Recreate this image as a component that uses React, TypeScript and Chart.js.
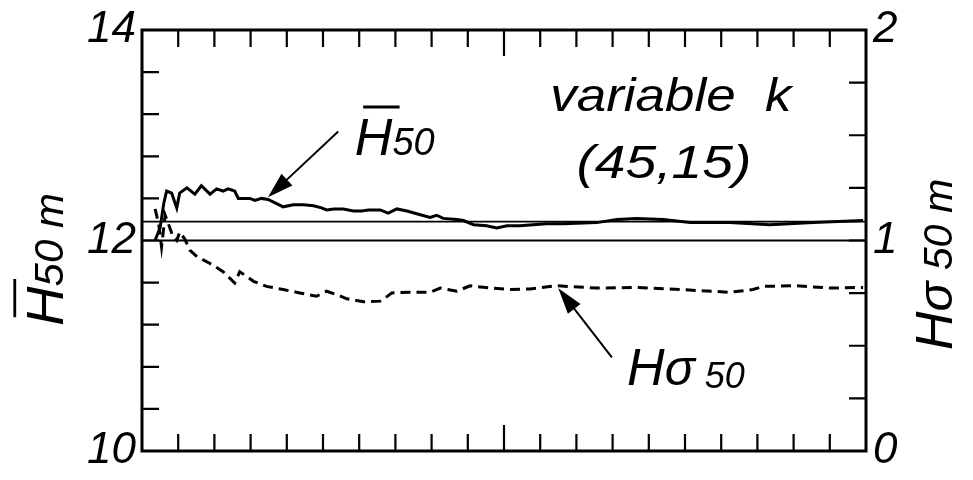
import React, { useEffect, useRef } from 'react';
import { Chart, registerables } from 'chart.js';

Chart.register(...registerables);

// ---- data (x: relative position along the run, 0..100) ----
const meanX = [1.8, 2.5, 3.0, 3.4, 4.1, 4.8, 5.2, 6.2, 7.3, 8.2, 9.4, 10.3, 11.2, 11.9, 12.8, 13.3, 14.9, 15.6, 16.5, 17.4, 18.6, 19.5, 20.9, 22.3, 23.7, 24.8, 25.5, 26.5, 27.8, 29.2, 30.3, 31.3, 32.9, 34.0, 35.2, 36.6, 38.2, 39.8, 40.7, 41.6, 43.5, 44.4, 45.8, 47.6, 49.0, 50.4, 52.2, 54.0, 55.9, 58.2, 62.8, 65.6, 68.3, 72.0, 75.7, 81.2, 86.7, 92.7, 99.6];
const meanH = [12.0, 12.12, 12.35, 12.47, 12.45, 12.31, 12.45, 12.50, 12.44, 12.52, 12.44, 12.49, 12.47, 12.49, 12.47, 12.40, 12.40, 12.38, 12.40, 12.39, 12.35, 12.32, 12.34, 12.34, 12.33, 12.31, 12.29, 12.30, 12.30, 12.28, 12.28, 12.29, 12.29, 12.26, 12.30, 12.28, 12.25, 12.22, 12.24, 12.21, 12.20, 12.19, 12.15, 12.14, 12.12, 12.14, 12.14, 12.15, 12.16, 12.16, 12.17, 12.20, 12.21, 12.20, 12.17, 12.17, 12.15, 12.17, 12.19];

const sigmaX = [1.8, 2.3, 2.7, 3.2, 3.9, 4.3, 4.8, 5.2, 5.9, 6.6, 7.6, 9.4, 11.2, 12.8, 13.5, 15.4, 17.2, 19.5, 21.8, 24.1, 25.5, 26.9, 28.3, 30.6, 32.9, 33.6, 34.5, 37.0, 39.8, 41.2, 43.5, 45.3, 48.1, 50.8, 53.6, 57.3, 62.8, 68.3, 74.3, 81.2, 84.4, 85.8, 90.4, 95.0, 99.6];
const sigmaH = [1.15, 1.08, 0.97, 1.12, 1.055, 1.016, 1.0, 1.04, 1.008, 0.954, 0.923, 0.891, 0.852, 0.798, 0.852, 0.806, 0.782, 0.767, 0.751, 0.735, 0.759, 0.743, 0.723, 0.709, 0.712, 0.727, 0.751, 0.754, 0.754, 0.774, 0.759, 0.785, 0.774, 0.767, 0.770, 0.785, 0.774, 0.777, 0.767, 0.754, 0.767, 0.782, 0.785, 0.774, 0.777];

const refLevels = [12, 12.18];
const leftTickLabels = [10, 12, 14];
const rightTickLabels = [0, 1, 2];
const xRange = [0, 100];
const xTickStep = 5;

const FONT = '"Liberation Sans", Arial, Helvetica, sans-serif';

type Part = { t: string; size: number; over?: boolean; dy?: number };

function drawRich(
  ctx: CanvasRenderingContext2D,
  parts: Part[],
  x: number,
  y: number,
  rot: number,
  sx: number,
  align: 'left' | 'center'
) {
  ctx.save();
  ctx.translate(x, y);
  if (rot) ctx.rotate(rot);
  ctx.scale(sx, 1);
  ctx.fillStyle = '#000';
  ctx.strokeStyle = '#000';
  ctx.textBaseline = 'alphabetic';
  ctx.textAlign = 'left';
  let total = 0;
  for (const p of parts) {
    ctx.font = `italic ${p.size}px ${FONT}`;
    total += ctx.measureText(p.t).width;
  }
  let cx = align === 'center' ? -total / 2 : 0;
  for (const p of parts) {
    ctx.font = `italic ${p.size}px ${FONT}`;
    const w = ctx.measureText(p.t).width;
    ctx.fillText(p.t, cx, p.dy || 0);
    if (p.over) {
      const yy = -p.size * 0.716 - 11;
      ctx.lineWidth = 2.8;
      ctx.beginPath();
      ctx.moveTo(cx + p.size * 0.16, yy);
      ctx.lineTo(cx + p.size * 0.86, yy);
      ctx.stroke();
    }
    cx += w;
  }
  ctx.restore();
}

function arrow(ctx: CanvasRenderingContext2D, x1: number, y1: number, x2: number, y2: number) {
  const ang = Math.atan2(y2 - y1, x2 - x1);
  const hl = 26;
  const hw = 8;
  ctx.save();
  ctx.strokeStyle = '#000';
  ctx.fillStyle = '#000';
  ctx.lineWidth = 2;
  ctx.beginPath();
  ctx.moveTo(x1, y1);
  ctx.lineTo(x2 - Math.cos(ang) * hl * 0.8, y2 - Math.sin(ang) * hl * 0.8);
  ctx.stroke();
  const bx = x2 - Math.cos(ang) * hl;
  const by = y2 - Math.sin(ang) * hl;
  ctx.beginPath();
  ctx.moveTo(x2, y2);
  ctx.lineTo(bx + Math.sin(ang) * hw, by - Math.cos(ang) * hw);
  ctx.lineTo(bx - Math.sin(ang) * hw, by + Math.cos(ang) * hw);
  ctx.closePath();
  ctx.fill();
  ctx.restore();
}

// annotation anchors in data units
const meanArrow = { x1: 27.1, y1: 13.035, x2: 17.4, y2: 12.41 };
const sigmaArrow = { x1: 64.9, y1: 0.445, x2: 57.5, y2: 0.773 };
const meanLabelPos = { x: 29.4, y: 12.81 };
const sigmaLabelPos = { x: 67.0, y: 0.314 };
const caseLine1 = { x: 56.4, y: 13.23, text: 'variable  k' };
const caseLine2 = { x: 60.0, y: 12.595, text: '(45,15)' };

const framePlugin = {
  id: 'frame',
  afterDatasetsDraw(chart: any) {
    const ctx: CanvasRenderingContext2D = chart.ctx;
    const { left, right, top, bottom } = chart.chartArea;
    const xs = chart.scales.x;
    const yl = chart.scales.y;
    const yr = chart.scales.y2;
    ctx.save();
    ctx.strokeStyle = '#000';
    // inward tick marks
    ctx.lineWidth = 2.2;
    ctx.beginPath();
    for (const t of yl.ticks) {
      const py = yl.getPixelForValue(t.value);
      ctx.moveTo(left, py);
      ctx.lineTo(left + 17, py);
    }
    for (const t of yr.ticks) {
      const py = yr.getPixelForValue(t.value);
      ctx.moveTo(right, py);
      ctx.lineTo(right - 17, py);
    }
    const mid = (xRange[0] + xRange[1]) / 2;
    for (let v = xRange[0] + xTickStep; v < xRange[1]; v += xTickStep) {
      const px = xs.getPixelForValue(v);
      const len = Math.abs(v - mid) < 1e-6 ? 26 : 17;
      ctx.moveTo(px, bottom);
      ctx.lineTo(px, bottom - len);
      ctx.moveTo(px, top);
      ctx.lineTo(px, top + len);
    }
    ctx.stroke();
    // frame
    ctx.lineWidth = 3;
    ctx.strokeRect(left, top, right - left, bottom - top);
    ctx.restore();

    // arrows
    arrow(ctx, xs.getPixelForValue(meanArrow.x1), yl.getPixelForValue(meanArrow.y1),
      xs.getPixelForValue(meanArrow.x2), yl.getPixelForValue(meanArrow.y2));
    arrow(ctx, xs.getPixelForValue(sigmaArrow.x1), yr.getPixelForValue(sigmaArrow.y1),
      xs.getPixelForValue(sigmaArrow.x2), yr.getPixelForValue(sigmaArrow.y2));

    // labels
    drawRich(ctx, [{ t: 'H', size: 52, over: true }, { t: '50', size: 38 }],
      xs.getPixelForValue(meanLabelPos.x), yl.getPixelForValue(meanLabelPos.y), 0, 1, 'left');
    drawRich(ctx, [{ t: 'H', size: 52 }, { t: 'σ', size: 50 }, { t: ' 50', size: 36, dy: 3 }],
      xs.getPixelForValue(sigmaLabelPos.x), yr.getPixelForValue(sigmaLabelPos.y), 0, 1, 'left');
    drawRich(ctx, [{ t: caseLine1.text, size: 46 }],
      xs.getPixelForValue(caseLine1.x), yl.getPixelForValue(caseLine1.y), 0, 1.15, 'left');
    drawRich(ctx, [{ t: caseLine2.text, size: 46 }],
      xs.getPixelForValue(caseLine2.x), yl.getPixelForValue(caseLine2.y), 0, 1.2, 'left');

    // axis titles
    const midY = (top + bottom) / 2;
    drawRich(ctx, [{ t: 'H', size: 52, over: true }, { t: '50', size: 40 }, { t: ' m', size: 40 }],
      63, midY + 19, -Math.PI / 2, 1.05, 'center');
    drawRich(ctx, [{ t: 'H', size: 52 }, { t: 'σ', size: 48 }, { t: ' 50', size: 40 }, { t: ' m', size: 40 }],
      952, midY + 24, -Math.PI / 2, 1.03, 'center');
  },
};

export default function App() {
  const ref = useRef<HTMLCanvasElement | null>(null);

  useEffect(() => {
    if (!ref.current) return;
    const tickFont = { family: FONT, size: 44, style: 'italic' as const, lineHeight: 1 };
    const chart = new Chart(ref.current, {
      type: 'line',
      data: {
        datasets: [
          {
            label: 'H50',
            data: meanX.map((x, i) => ({ x, y: meanH[i] })),
            yAxisID: 'y',
            borderColor: '#000',
            borderWidth: 3,
            pointRadius: 0,
            tension: 0,
          },
          {
            label: 'Hσ50',
            data: sigmaX.map((x, i) => ({ x, y: sigmaH[i] })),
            yAxisID: 'y2',
            borderColor: '#000',
            borderWidth: 3,
            borderDash: [10, 6],
            pointRadius: 0,
            tension: 0,
          },
          ...refLevels.map((lv) => ({
            label: 'ref ' + lv,
            data: [{ x: xRange[0], y: lv }, { x: xRange[1], y: lv }],
            yAxisID: 'y',
            borderColor: '#000',
            borderWidth: 1.8,
            pointRadius: 0,
          })),
        ],
      },
      options: {
        responsive: false,
        animation: false,
        devicePixelRatio: 1,
        layout: { padding: { top: 30, bottom: 23, left: 0, right: 0 } },
        plugins: { legend: { display: false }, tooltip: { enabled: false } },
        scales: {
          x: { type: 'linear', min: xRange[0], max: xRange[1], display: false },
          y: {
            type: 'linear',
            position: 'left',
            min: 10,
            max: 14,
            border: { display: false },
            grid: { drawOnChartArea: false, drawTicks: false },
            ticks: {
              stepSize: 0.4,
              autoSkip: false,
              padding: 6,
              color: '#000',
              font: tickFont,
              callback: (v: any) => {
                const n = Number(v);
                const hit = leftTickLabels.find((t) => Math.abs(t - n) < 1e-6);
                return hit !== undefined ? String(hit) : '';
              },
            },
            afterFit: (s: any) => { s.width = 142; },
          },
          y2: {
            type: 'linear',
            position: 'right',
            min: 0,
            max: 2,
            border: { display: false },
            grid: { drawOnChartArea: false, drawTicks: false },
            ticks: {
              stepSize: 0.25,
              autoSkip: false,
              padding: 7,
              color: '#000',
              font: tickFont,
              callback: (v: any) => {
                const n = Number(v);
                const hit = rightTickLabels.find((t) => Math.abs(t - n) < 1e-6);
                return hit !== undefined ? String(hit) : '';
              },
            },
            afterFit: (s: any) => { s.width = 107; },
          },
        },
      },
      plugins: [framePlugin],
    } as any);
    return () => chart.destroy();
  }, []);

  return (
    <div style={{ position: 'absolute', left: 0, top: 0, width: 973, height: 480, background: '#fff' }}>
      <canvas ref={ref} width={973} height={480} style={{ width: 973, height: 480, display: 'block' }} />
    </div>
  );
}
